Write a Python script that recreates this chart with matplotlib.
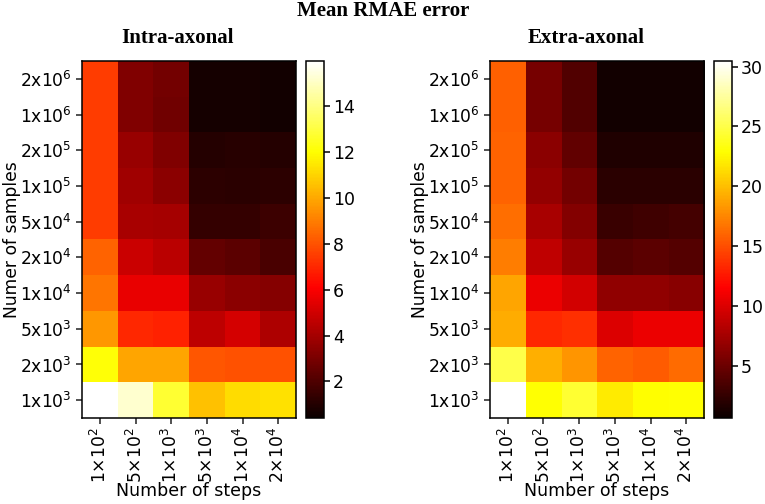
import numpy as np
import matplotlib
matplotlib.use('Agg')
import matplotlib.pyplot as plt

steps = ['1', '5', '1', '5', '1', '2']
step_exp = [2, 2, 3, 3, 4, 4]
samples = ['2', '1', '2', '1', '5', '2', '1', '5', '2', '1']
sample_exp = [6, 6, 5, 5, 4, 4, 4, 3, 3, 3]

# top row first
intra = [[7.5, 3.2, 2.85, 0.7, 0.7, 0.65],
         [7.5, 3.2, 2.8, 0.7, 0.7, 0.65],
         [7.5, 3.7, 3.2, 1.05, 1.1, 1.05],
         [7.5, 3.9, 3.4, 1.2, 1.15, 1.25],
         [7.5, 4.1, 4.0, 1.4, 1.4, 1.6],
         [8.4, 4.85, 4.5, 2.5, 2.3, 1.9],
         [8.8, 5.6, 5.6, 3.75, 3.4, 3.3],
         [9.6, 7.0, 6.9, 4.6, 5.1, 4.2],
         [12.1, 9.9, 9.9, 8.1, 8.0, 8.0],
         [15.96, 15.2, 12.8, 10.6, 11.2, 11.3]]
extra = [[15.8, 5.5, 3.8, 1.05, 1.05, 1.05],
         [15.8, 5.5, 3.8, 1.0, 1.0, 1.0],
         [15.9, 6.4, 4.5, 1.6, 1.6, 1.6],
         [15.9, 6.8, 5.3, 2.1, 2.1, 2.1],
         [16.4, 7.7, 6.0, 2.8, 3.0, 3.3],
         [17.1, 8.7, 7.0, 4.0, 4.3, 3.9],
         [18.9, 10.7, 9.6, 6.6, 6.6, 6.3],
         [19.2, 13.3, 13.6, 10.0, 10.7, 10.7],
         [25.0, 19.3, 18.2, 16.0, 15.6, 16.3],
         [30.47, 22.9, 24.4, 22.0, 22.8, 23.0]]

intra_ticks = [2, 4, 6, 8, 10, 12, 14]
extra_ticks = [5, 10, 15, 20, 25, 30]

W, H = 765.0, 504.0
serif = 'Liberation Serif'


def box(x0, y0, x1, y1):
    return [x0/W, 1-y1/H, (x1-x0)/W, (y1-y0)/H]


def heat(left, data, title, ticks, vmin, vmax):
    ax = fig.add_axes(box(left, 61, left+214, 418))
    cax = fig.add_axes(box(left+224, 61, left+242, 418))
    im = ax.imshow(np.array(data), cmap='hot', aspect='auto', vmin=vmin, vmax=vmax)
    ax.set_xticks(range(len(steps)))
    ax.set_xticklabels(['$\\mathdefault{%s{\\times}10^{%d}}$' % (a, b) for a, b in zip(steps, step_exp)],
                       rotation=90, fontsize=12.3)
    ax.set_yticks(range(len(samples)))
    ax.set_yticklabels(['$\\mathdefault{%sx10^{%d}}$' % (a, b) for a, b in zip(samples, sample_exp)],
                       fontsize=12.3)
    ax.tick_params(width=1.1, length=4, color='#222222')
    ax.tick_params(axis='x', pad=2.5)
    ax.tick_params(axis='y', pad=3.5)
    ax.set_xlabel('Number of steps', fontsize=12.5, va='center')
    ax.xaxis.set_label_coords(0.5, (418-490.5)/357.0)
    ax.set_ylabel('Numer of samples', fontsize=12.3, labelpad=-1.2)
    fig.text((left+96)/W, 1-38/H, title, family=serif, weight='bold', fontsize=15,
             ha='center', va='center')
    for s in ax.spines.values():
        s.set_linewidth(1.1)
    cb = fig.colorbar(im, cax=cax, ticks=ticks)
    cb.ax.tick_params(labelsize=12.5, width=1.1, length=4, pad=2.5)
    cb.outline.set_linewidth(1.1)


fig = plt.figure(figsize=(7.65, 5.04), dpi=100, facecolor='white')
heat(82, intra, 'Intra-axonal', intra_ticks, 0.41, 15.96)
heat(490, extra, 'Extra-axonal', extra_ticks, 0.63, 30.47)
fig.text(383/W, 1-10.5/H, 'Mean RMAE error', family=serif, weight='bold', fontsize=15,
         ha='center', va='center')
fig.savefig('out.png', dpi=100)
